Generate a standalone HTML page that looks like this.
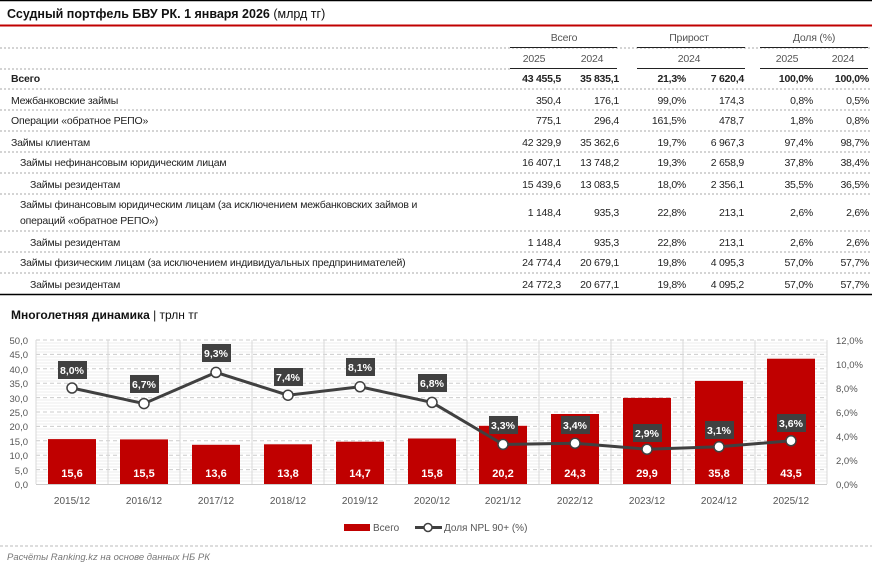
<!DOCTYPE html>
<html><head><meta charset="utf-8"><style>
html,body{margin:0;padding:0;background:#fff}
svg{display:block;font-family:"Liberation Sans","DejaVu Sans",sans-serif}
</style></head><body>
<svg width="872" height="571" viewBox="0 0 872 571" xmlns="http://www.w3.org/2000/svg">
<rect x="0" y="0" width="872" height="571" fill="#fff"/>
<line x1="0" y1="0.5" x2="872" y2="0.5" stroke="#000" stroke-width="1.5"/>
<text x="7" y="18" font-size="12.5" font-weight="bold" fill="#111">Ссудный портфель БВУ РК. 1 января 2026 <tspan font-weight="normal">(млрд тг)</tspan></text>
<line x1="0" y1="25.5" x2="872" y2="25.5" stroke="#c00000" stroke-width="2"/>
<g font-size="10.5" fill="#555" text-anchor="middle" letter-spacing="-0.2">
<text x="564" y="41">Всего</text><text x="689" y="41">Прирост</text><text x="814" y="41">Доля (%)</text>
<text x="534" y="62">2025</text><text x="592" y="62">2024</text>
<text x="689" y="62">2024</text>
<text x="787" y="62">2025</text><text x="843" y="62">2024</text>
</g>
<line x1="0" y1="48" x2="872" y2="48" stroke="#aaa" stroke-dasharray="2,2"/>
<g stroke="#222" stroke-width="1"><line x1="510" y1="47.5" x2="617" y2="47.5"/><line x1="637" y1="47.5" x2="745" y2="47.5"/><line x1="760" y1="47.5" x2="868" y2="47.5"/>
<line x1="510" y1="68.5" x2="617" y2="68.5"/><line x1="637" y1="68.5" x2="745" y2="68.5"/><line x1="760" y1="68.5" x2="868" y2="68.5"/></g>
<line x1="0" y1="69" x2="510" y2="69" stroke="#aaa" stroke-dasharray="2,2"/>
<g stroke="#aaa" stroke-dasharray="2,2">
<line x1="0" y1="89" x2="872" y2="89"/><line x1="0" y1="110" x2="872" y2="110"/><line x1="0" y1="131" x2="872" y2="131"/><line x1="0" y1="152" x2="872" y2="152"/><line x1="0" y1="173" x2="872" y2="173"/><line x1="0" y1="194" x2="872" y2="194"/><line x1="0" y1="231" x2="872" y2="231"/><line x1="0" y1="252" x2="872" y2="252"/><line x1="0" y1="273" x2="872" y2="273"/>
</g>
<line x1="0" y1="294.5" x2="872" y2="294.5" stroke="#000" stroke-width="1.5"/>
<g font-size="10.5" fill="#222" letter-spacing="-0.2">
<g font-weight="bold"><text x="11" y="82">Всего</text></g>
<text x="11" y="104">Межбанковские займы</text>
<text x="11" y="124">Операции «обратное РЕПО»</text>
<text x="11" y="146">Займы клиентам</text>
<text x="20" y="166">Займы нефинансовым юридическим лицам</text>
<text x="30" y="188">Займы резидентам</text>
<text x="20" y="208">Займы финансовым юридическим лицам (за исключением межбанковских займов и</text>
<text x="20" y="224">операций «обратное РЕПО»)</text>
<text x="30" y="246">Займы резидентам</text>
<text x="20" y="266">Займы физическим лицам (за исключением индивидуальных предпринимателей)</text>
<text x="30" y="288">Займы резидентам</text>
</g>
<g font-size="10.5" fill="#222" text-anchor="end" letter-spacing="-0.25">
<g font-weight="bold"><text x="561" y="82">43 455,5</text><text x="619" y="82">35 835,1</text><text x="686" y="82">21,3%</text><text x="744" y="82">7 620,4</text><text x="813" y="82">100,0%</text><text x="869" y="82">100,0%</text></g>
<text x="561" y="104">350,4</text><text x="619" y="104">176,1</text><text x="686" y="104">99,0%</text><text x="744" y="104">174,3</text><text x="813" y="104">0,8%</text><text x="869" y="104">0,5%</text>
<text x="561" y="124">775,1</text><text x="619" y="124">296,4</text><text x="686" y="124">161,5%</text><text x="744" y="124">478,7</text><text x="813" y="124">1,8%</text><text x="869" y="124">0,8%</text>
<text x="561" y="146">42 329,9</text><text x="619" y="146">35 362,6</text><text x="686" y="146">19,7%</text><text x="744" y="146">6 967,3</text><text x="813" y="146">97,4%</text><text x="869" y="146">98,7%</text>
<text x="561" y="166">16 407,1</text><text x="619" y="166">13 748,2</text><text x="686" y="166">19,3%</text><text x="744" y="166">2 658,9</text><text x="813" y="166">37,8%</text><text x="869" y="166">38,4%</text>
<text x="561" y="188">15 439,6</text><text x="619" y="188">13 083,5</text><text x="686" y="188">18,0%</text><text x="744" y="188">2 356,1</text><text x="813" y="188">35,5%</text><text x="869" y="188">36,5%</text>
<text x="561" y="216">1 148,4</text><text x="619" y="216">935,3</text><text x="686" y="216">22,8%</text><text x="744" y="216">213,1</text><text x="813" y="216">2,6%</text><text x="869" y="216">2,6%</text>
<text x="561" y="246">1 148,4</text><text x="619" y="246">935,3</text><text x="686" y="246">22,8%</text><text x="744" y="246">213,1</text><text x="813" y="246">2,6%</text><text x="869" y="246">2,6%</text>
<text x="561" y="266">24 774,4</text><text x="619" y="266">20 679,1</text><text x="686" y="266">19,8%</text><text x="744" y="266">4 095,3</text><text x="813" y="266">57,0%</text><text x="869" y="266">57,7%</text>
<text x="561" y="288">24 772,3</text><text x="619" y="288">20 677,1</text><text x="686" y="288">19,8%</text><text x="744" y="288">4 095,2</text><text x="813" y="288">57,0%</text><text x="869" y="288">57,7%</text>
</g>
<text x="11" y="319" font-size="12" font-weight="bold" fill="#111">Многолетняя динамика <tspan font-weight="normal">| трлн тг</tspan></text>
<g stroke="#eee" stroke-width="1">
<line x1="36" y1="343" x2="827" y2="343"/><line x1="36" y1="346" x2="827" y2="346"/><line x1="36" y1="349" x2="827" y2="349"/><line x1="36" y1="352" x2="827" y2="352"/><line x1="36" y1="357" x2="827" y2="357"/><line x1="36" y1="360" x2="827" y2="360"/><line x1="36" y1="363" x2="827" y2="363"/><line x1="36" y1="366" x2="827" y2="366"/><line x1="36" y1="372" x2="827" y2="372"/><line x1="36" y1="375" x2="827" y2="375"/><line x1="36" y1="378" x2="827" y2="378"/><line x1="36" y1="381" x2="827" y2="381"/><line x1="36" y1="386" x2="827" y2="386"/><line x1="36" y1="389" x2="827" y2="389"/><line x1="36" y1="392" x2="827" y2="392"/><line x1="36" y1="395" x2="827" y2="395"/><line x1="36" y1="400" x2="827" y2="400"/><line x1="36" y1="403" x2="827" y2="403"/><line x1="36" y1="406" x2="827" y2="406"/><line x1="36" y1="409" x2="827" y2="409"/><line x1="36" y1="415" x2="827" y2="415"/><line x1="36" y1="418" x2="827" y2="418"/><line x1="36" y1="421" x2="827" y2="421"/><line x1="36" y1="424" x2="827" y2="424"/><line x1="36" y1="429" x2="827" y2="429"/><line x1="36" y1="432" x2="827" y2="432"/><line x1="36" y1="435" x2="827" y2="435"/><line x1="36" y1="438" x2="827" y2="438"/><line x1="36" y1="444" x2="827" y2="444"/><line x1="36" y1="447" x2="827" y2="447"/><line x1="36" y1="450" x2="827" y2="450"/><line x1="36" y1="453" x2="827" y2="453"/><line x1="36" y1="458" x2="827" y2="458"/><line x1="36" y1="461" x2="827" y2="461"/><line x1="36" y1="464" x2="827" y2="464"/><line x1="36" y1="467" x2="827" y2="467"/><line x1="36" y1="472" x2="827" y2="472"/><line x1="36" y1="475" x2="827" y2="475"/><line x1="36" y1="478" x2="827" y2="478"/><line x1="36" y1="481" x2="827" y2="481"/>
</g>
<g stroke="#ccc" stroke-dasharray="4,3">
<line x1="36" y1="340" x2="827" y2="340"/><line x1="36" y1="354.4" x2="827" y2="354.4"/><line x1="36" y1="368.8" x2="827" y2="368.8"/><line x1="36" y1="383.2" x2="827" y2="383.2"/><line x1="36" y1="397.6" x2="827" y2="397.6"/><line x1="36" y1="412" x2="827" y2="412"/><line x1="36" y1="426.4" x2="827" y2="426.4"/><line x1="36" y1="440.8" x2="827" y2="440.8"/><line x1="36" y1="455.2" x2="827" y2="455.2"/><line x1="36" y1="469.6" x2="827" y2="469.6"/>
</g>
<g stroke="#d8d8d8"><line x1="36" y1="340" x2="36" y2="484"/><line x1="108" y1="340" x2="108" y2="484"/><line x1="180" y1="340" x2="180" y2="484"/><line x1="252" y1="340" x2="252" y2="484"/><line x1="324" y1="340" x2="324" y2="484"/><line x1="396" y1="340" x2="396" y2="484"/><line x1="467" y1="340" x2="467" y2="484"/><line x1="539" y1="340" x2="539" y2="484"/><line x1="611" y1="340" x2="611" y2="484"/><line x1="683" y1="340" x2="683" y2="484"/><line x1="755" y1="340" x2="755" y2="484"/><line x1="827" y1="340" x2="827" y2="484"/></g>
<line x1="36" y1="484.5" x2="827" y2="484.5" stroke="#ccc"/>
<g font-size="9.5" fill="#555" text-anchor="end">
<text x="28" y="344">50,0</text><text x="28" y="358">45,0</text><text x="28" y="373">40,0</text><text x="28" y="387">35,0</text><text x="28" y="402">30,0</text><text x="28" y="416">25,0</text><text x="28" y="430">20,0</text><text x="28" y="445">15,0</text><text x="28" y="459">10,0</text><text x="28" y="474">5,0</text><text x="28" y="488">0,0</text>
</g>
<g font-size="9.5" fill="#555">
<text x="836" y="344">12,0%</text><text x="836" y="368">10,0%</text><text x="836" y="392">8,0%</text><text x="836" y="416">6,0%</text><text x="836" y="440">4,0%</text><text x="836" y="464">2,0%</text><text x="836" y="488">0,0%</text>
</g>
<g fill="#c00000">
<rect x="48" y="439.1" width="48" height="44.9"/><rect x="120" y="439.4" width="48" height="44.6"/><rect x="192" y="444.8" width="48" height="39.2"/><rect x="264" y="444.3" width="48" height="39.7"/><rect x="336" y="441.7" width="48" height="42.3"/><rect x="408" y="438.5" width="48" height="45.5"/><rect x="479" y="425.8" width="48" height="58.2"/><rect x="551" y="414" width="48" height="70"/><rect x="623" y="397.9" width="48" height="86.1"/><rect x="695" y="380.9" width="48" height="103.1"/><rect x="767" y="358.7" width="48" height="125.3"/>
</g>
<g font-size="11" font-weight="bold" fill="#fff" text-anchor="middle">
<text x="72" y="477">15,6</text><text x="144" y="477">15,5</text><text x="216" y="477">13,6</text><text x="288" y="477">13,8</text><text x="360" y="477">14,7</text><text x="432" y="477">15,8</text><text x="503" y="477">20,2</text><text x="575" y="477">24,3</text><text x="647" y="477">29,9</text><text x="719" y="477">35,8</text><text x="791" y="477">43,5</text>
</g>
<polyline fill="none" stroke="#404040" stroke-width="3" points="72,388 144,403.6 216,372.4 288,395.2 360,386.8 432,402.4 503,444.4 575,443.2 647,449.2 719,446.8 791,440.8"/>
<g fill="#fff" stroke="#404040" stroke-width="1.5">
<circle cx="72" cy="388" r="5"/><circle cx="144" cy="403.6" r="5"/><circle cx="216" cy="372.4" r="5"/><circle cx="288" cy="395.2" r="5"/><circle cx="360" cy="386.8" r="5"/><circle cx="432" cy="402.4" r="5"/><circle cx="503" cy="444.4" r="5"/><circle cx="575" cy="443.2" r="5"/><circle cx="647" cy="449.2" r="5"/><circle cx="719" cy="446.8" r="5"/><circle cx="791" cy="440.8" r="5"/>
</g>
<g fill="#404040">
<rect x="58" y="361" width="29" height="18"/><rect x="130" y="375" width="29" height="18"/><rect x="202" y="344" width="29" height="18"/><rect x="274" y="368" width="29" height="18"/><rect x="346" y="358" width="29" height="18"/><rect x="418" y="374" width="29" height="18"/><rect x="489" y="416" width="29" height="18"/><rect x="561" y="416" width="29" height="18"/><rect x="633" y="424" width="29" height="18"/><rect x="705" y="421" width="29" height="18"/><rect x="777" y="414" width="29" height="18"/>
</g>
<g font-size="10.5" font-weight="bold" fill="#fff" text-anchor="middle">
<text x="72" y="374">8,0%</text><text x="144" y="388">6,7%</text><text x="216" y="357">9,3%</text><text x="288" y="381">7,4%</text><text x="360" y="371">8,1%</text><text x="432" y="387">6,8%</text><text x="503" y="429">3,3%</text><text x="575" y="429">3,4%</text><text x="647" y="437">2,9%</text><text x="719" y="434">3,1%</text><text x="791" y="427">3,6%</text>
</g>
<g font-size="10" fill="#555" text-anchor="middle">
<text x="72" y="504">2015/12</text><text x="144" y="504">2016/12</text><text x="216" y="504">2017/12</text><text x="288" y="504">2018/12</text><text x="360" y="504">2019/12</text><text x="432" y="504">2020/12</text><text x="503" y="504">2021/12</text><text x="575" y="504">2022/12</text><text x="647" y="504">2023/12</text><text x="719" y="504">2024/12</text><text x="791" y="504">2025/12</text>
</g>
<rect x="344" y="524" width="26" height="7" fill="#c00000"/>
<text x="373" y="531" font-size="10" fill="#555">Всего</text>
<line x1="415" y1="527.5" x2="442" y2="527.5" stroke="#404040" stroke-width="3"/>
<circle cx="428" cy="527.5" r="4" fill="#fff" stroke="#404040" stroke-width="1.5"/>
<text x="444" y="531" font-size="10" fill="#555">Доля NPL 90+ (%)</text>
<line x1="0" y1="546" x2="872" y2="546" stroke="#bbb" stroke-dasharray="3,2"/>
<text x="7" y="560" font-size="9.5" font-style="italic" fill="#777">Расчёты Ranking.kz на основе данных НБ РК</text>
</svg>
</body></html>
